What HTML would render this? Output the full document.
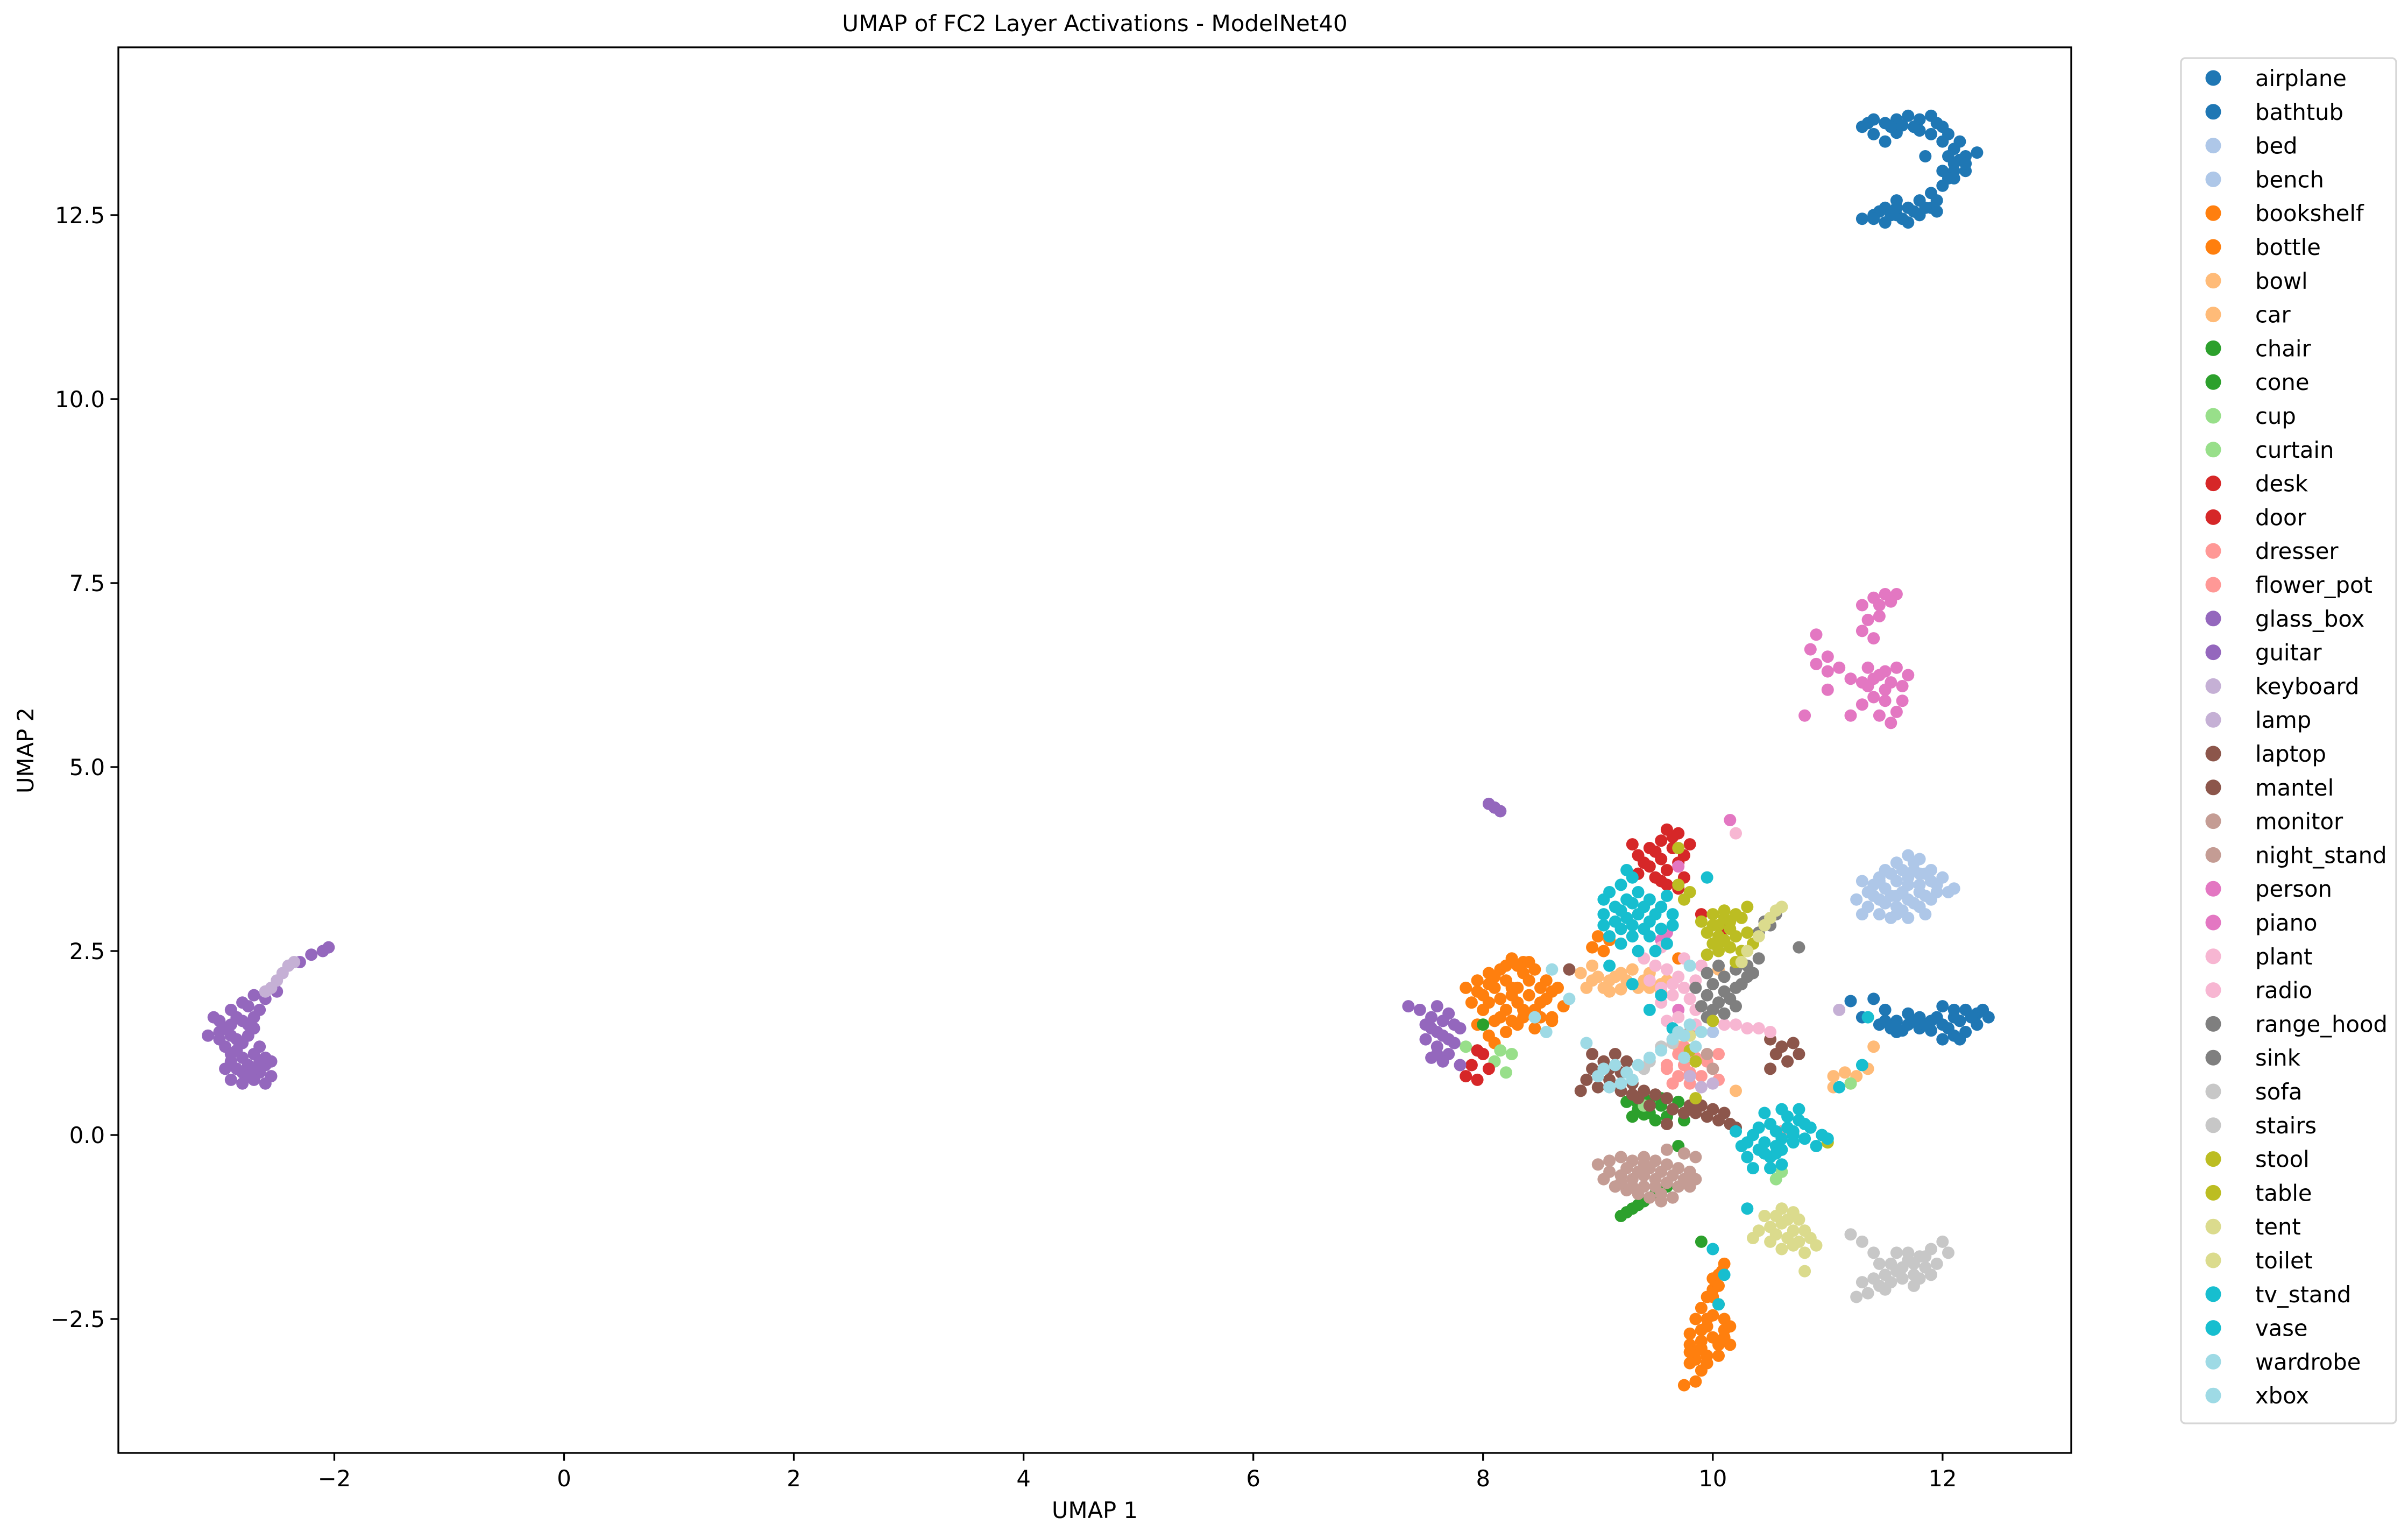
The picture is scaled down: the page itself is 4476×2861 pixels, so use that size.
<!DOCTYPE html>
<html><head><meta charset="utf-8"><style>
html,body{margin:0;padding:0;background:#fff;}
svg{display:block;font-family:"DejaVu Sans","Liberation Sans",sans-serif;}
</style></head><body>
<svg id="chart" width="4476" height="2861" viewBox="0 0 4476 2861" xmlns="http://www.w3.org/2000/svg">
<rect x="0" y="0" width="4476" height="2861" fill="#fff"/>
<text x="2035" y="58" font-size="42" text-anchor="middle">UMAP of FC2 Layer Activations - ModelNet40</text>
<text x="2035" y="2822" font-size="41.7" text-anchor="middle">UMAP 1</text>
<text transform="translate(62,1395) rotate(-90)" font-size="41.7" text-anchor="middle">UMAP 2</text>
<g id="marks"></g>
<g id="axes"></g>
<g id="legend"></g>
</svg>
<script>
const xTicks = [-2, 0, 2, 4, 6, 8, 10, 12];
const yTicks = [-2.5, 0.0, 2.5, 5.0, 7.5, 10.0, 12.5];
const yTickLabels = ["\u22122.5", "0.0", "2.5", "5.0", "7.5", "10.0", "12.5"];
const xTickLabels = ["\u22122", "0", "2", "4", "6", "8", "10", "12"];
const classes = ["airplane","bathtub","bed","bench","bookshelf","bottle","bowl","car","chair","cone","cup","curtain","desk","door","dresser","flower_pot","glass_box","guitar","keyboard","lamp","laptop","mantel","monitor","night_stand","person","piano","plant","radio","range_hood","sink","sofa","stairs","stool","table","tent","toilet","tv_stand","vase","wardrobe","xbox"];
const colors = ["#1f77b4","#1f77b4","#aec7e8","#aec7e8","#ff7f0e","#ff7f0e","#ffbb78","#ffbb78","#2ca02c","#2ca02c","#98df8a","#98df8a","#d62728","#d62728","#ff9896","#ff9896","#9467bd","#9467bd","#c5b0d5","#c5b0d5","#8c564b","#8c564b","#c49c94","#c49c94","#e377c2","#e377c2","#f7b6d2","#f7b6d2","#7f7f7f","#7f7f7f","#c7c7c7","#c7c7c7","#bcbd22","#bcbd22","#dbdb8d","#dbdb8d","#17becf","#17becf","#9edae5","#9edae5"];

const airplanePts = [[11.3,13.7],[11.4,13.8],[11.5,13.75],[11.6,13.8],[11.7,13.85],[11.8,13.8],[11.9,13.85],[12.0,13.7],[11.4,13.6],[11.6,13.62],[11.9,13.6],[12.0,13.5],[12.1,13.4],[12.2,13.3],[12.3,13.35],[12.1,13.2],[12.0,13.1],[12.2,13.1],[12.1,13.0],[12.0,12.9],[11.9,12.8],[11.4,12.5],[11.5,12.6],[11.6,12.5],[11.7,12.6],[11.8,12.5],[11.9,12.6],[11.7,12.4],[11.5,12.4],[11.8,12.7],[11.6,12.7],[11.3,12.45],[11.95,12.55],[12.15,13.25],[11.75,13.7],[11.5,13.5],[11.85,13.3],[12.05,13.3],[11.35,13.75],[11.55,13.7],[11.65,13.72],[11.8,13.65],[11.95,13.75],[12.05,13.6],[12.15,13.5],[12.2,13.2],[12.1,13.1],[12.05,13.0],[11.95,12.7],[11.45,12.55],[11.55,12.5],[11.65,12.45],[11.75,12.55],[11.85,12.6],[11.6,12.6],[11.4,12.45]];
const bathtubPts = [[11.2,1.82],[11.4,1.85],[11.5,1.7],[11.3,1.6],[11.45,1.5],[11.6,1.4],[11.7,1.5],[11.8,1.6],[11.9,1.55],[12.0,1.5],[12.1,1.6],[12.2,1.7],[12.3,1.65],[12.4,1.6],[12.0,1.3],[12.1,1.35],[12.2,1.4],[11.9,1.42],[12.0,1.75],[12.1,1.7],[11.6,1.55],[11.7,1.65],[11.8,1.45],[12.3,1.5],[11.55,1.45],[11.65,1.42],[11.75,1.55],[11.85,1.5],[11.95,1.6],[12.05,1.45],[12.15,1.55],[12.25,1.6],[12.35,1.7],[12.15,1.3],[11.5,1.55]];
const bedPts = [[11.3,3.45],[11.4,3.4],[11.5,3.6],[11.6,3.7],[11.7,3.8],[11.8,3.75],[11.9,3.6],[12.0,3.5],[12.1,3.35],[11.25,3.2],[11.35,3.1],[11.45,3.0],[11.55,2.95],[11.65,3.05],[11.75,3.15],[11.85,3.25],[11.95,3.3],[11.4,3.25],[11.5,3.35],[11.6,3.45],[11.7,3.5],[11.8,3.4],[11.9,3.2],[11.3,3.0],[11.5,3.15],[11.65,3.3],[11.75,3.6],[11.55,3.55],[11.7,2.95],[11.85,3.0],[10.0,1.4],[11.45,3.2],[11.55,3.25],[11.6,3.1],[11.7,3.2],[11.8,3.3],[11.9,3.45],[11.65,3.6],[11.75,3.7],[11.85,3.55],[11.35,3.3],[11.45,3.5],[11.6,3.0],[11.8,3.1],[11.95,3.4],[12.05,3.3]];
const benchPts = [[11.6,3.25],[11.7,3.4],[11.45,3.45],[11.8,3.55]];
const bookshelfPts = [[7.95,2.1],[8.05,2.2],[8.15,2.25],[8.25,2.4],[8.35,2.35],[8.45,2.25],[8.55,2.1],[8.6,1.95],[8.5,1.8],[8.4,1.65],[8.3,1.5],[8.2,1.4],[8.1,1.55],[8.0,1.7],[7.9,1.8],[8.0,1.9],[8.1,2.0],[8.2,2.1],[8.3,2.0],[8.4,1.9],[8.2,1.7],[8.3,1.8],[8.05,1.35],[7.95,1.5],[8.5,1.6],[8.65,2.0],[8.7,1.75],[8.15,1.85],[7.85,2.0],[8.35,2.2],[8.25,1.55],[8.45,1.45],[9.0,2.7],[9.05,2.5],[8.95,2.55],[9.1,2.65],[8.05,2.05],[8.1,2.15],[8.2,2.3],[8.3,2.3],[8.4,2.1],[8.5,2.0],[8.55,1.85],[8.45,1.7],[8.35,1.6],[8.25,1.9],[8.15,1.6],[8.05,1.8],[7.95,1.95],[8.25,2.0],[8.35,1.7],[8.6,1.55],[8.4,2.35],[10.1,-1.75],[10.05,-1.9],[10.0,-2.1],[9.95,-2.2],[10.05,-2.3],[9.9,-2.35],[10.0,-2.45],[10.1,-2.5],[9.95,-2.6],[9.85,-2.5],[9.8,-2.7],[9.9,-2.8],[10.0,-2.75],[10.1,-2.65],[10.15,-2.85],[9.85,-2.95],[9.95,-3.0],[9.8,-3.1],[9.9,-3.2],[9.85,-3.35],[9.75,-3.4],[10.05,-3.0],[9.95,-3.1],[10.15,-2.6],[10.0,-1.95],[10.05,-2.05],[9.95,-2.5],[9.9,-2.65],[9.8,-2.85],[9.85,-3.05],[9.9,-2.9],[10.05,-2.85],[10.1,-2.75],[9.8,-2.95],[10.0,-2.2],[10.08,-1.85]];
const bottlePts = [[8.1,1.25],[8.6,1.6],[9.7,2.4]];
const bowlPts = [[8.85,2.2],[8.95,2.1],[9.05,2.0],[9.15,2.15],[9.25,2.1],[9.35,2.0],[9.45,2.2],[9.55,2.05],[9.3,2.25],[9.1,1.95],[8.95,2.3],[9.2,1.98],[9.4,2.1],[9.55,1.95],[9.0,2.15],[9.1,2.1],[9.2,2.2],[9.3,2.05],[9.45,2.0],[9.6,2.1],[8.9,2.0],[11.05,0.8],[11.15,0.85],[11.25,0.8],[11.35,0.9],[11.05,0.65],[11.4,1.2],[11.2,0.7]];
const carPts = [[10.2,0.6],[10.05,2.25],[9.7,1.2]];
const chairPts = [[9.25,0.45],[9.35,0.35],[9.45,0.3],[9.55,0.4],[9.65,0.35],[9.3,0.25],[9.5,0.2],[9.6,0.25],[9.4,0.5],[9.7,0.45],[9.55,0.5],[9.35,0.42],[9.45,0.45],[9.4,0.28],[9.2,-1.1],[9.25,-1.05],[9.3,-1.0],[9.35,-0.95],[9.4,-0.9],[9.5,-0.8],[9.6,-0.7],[9.9,-1.45],[9.7,-0.15]];
const conePts = [[8.0,1.5],[9.75,0.2]];
const cupPts = [[7.85,1.2],[7.95,1.15],[8.1,1.0],[8.2,0.85],[8.15,1.15],[9.4,0.4],[10.5,-0.45],[10.6,-0.5],[11.2,0.7]];
const curtainPts = [[8.25,1.1],[10.55,-0.6]];
const deskPts = [[9.35,3.8],[9.45,3.9],[9.55,4.0],[9.6,4.15],[9.7,4.1],[9.65,3.9],[9.55,3.75],[9.45,3.65],[9.35,3.55],[9.5,3.5],[9.6,3.6],[9.7,3.7],[9.75,3.5],[9.7,3.35],[9.3,3.95],[9.8,3.95],[9.55,3.45],[9.4,3.7],[9.5,3.85],[9.65,4.05],[9.75,3.8],[9.6,3.4],[7.85,0.8],[7.95,0.75],[8.05,0.9],[7.9,0.95],[8.0,1.1],[7.95,1.15]];
const doorPts = [[9.9,3.0],[10.1,2.8]];
const dresserPts = [[9.65,1.3],[9.7,1.1],[9.75,0.95],[9.8,0.85],[9.9,0.8],[10.0,0.9],[9.85,1.05],[9.75,1.2],[9.95,1.0],[10.05,1.1],[9.6,0.95],[9.7,0.8],[9.8,0.7],[10.05,0.75],[9.65,0.7]];
const flowerPotPts = [[9.6,0.9],[10.6,0.05]];
const glassBoxPts = [[-3.0,1.55],[-2.9,1.7],[-2.8,1.8],[-2.7,1.9],[-2.6,1.85],[-3.1,1.35],[-3.0,1.4],[-2.9,1.5],[-2.8,1.55],[-2.7,1.6],[-2.95,1.2],[-2.85,1.3],[-2.75,1.35],[-2.65,1.7],[-2.6,1.95],[-2.5,1.95],[-2.9,1.0],[-2.8,1.05],[-2.7,1.1],[-2.6,1.05],[-2.85,0.9],[-2.75,0.95],[-2.65,0.85],[-2.55,0.8],[-2.9,0.75],[-2.8,0.7],[-2.7,0.75],[-2.6,0.7],[-2.95,0.9],[-2.65,1.2],[-2.55,1.0],[-3.05,1.6],[-2.75,1.75],[-2.85,1.15],[-2.95,1.45],[-2.85,1.6],[-2.75,1.5],[-2.9,1.35],[-3.0,1.3],[-2.8,1.25],[-2.7,1.45],[-2.8,0.85],[-2.7,0.9],[-2.6,0.95],[-2.75,0.8],[-2.65,1.0],[-2.9,1.1],[-2.3,2.35],[-2.2,2.45],[-2.1,2.5],[-2.05,2.55]];
const guitarPts = [[7.35,1.75],[7.45,1.7],[7.55,1.6],[7.65,1.55],[7.75,1.5],[7.6,1.4],[7.7,1.3],[7.5,1.3],[7.6,1.2],[7.7,1.1],[7.55,1.05],[7.65,1.0],[7.75,1.25],[7.8,1.45],[7.5,1.5],[7.6,1.75],[7.55,1.45],[7.65,1.35],[7.7,1.65],[7.6,1.1],[8.05,4.5],[8.1,4.45],[8.15,4.4],[7.8,0.95]];
const keyboardPts = [[-2.55,2.0],[-2.5,2.1],[-2.45,2.2],[-2.4,2.3],[-2.35,2.35],[-2.6,1.95],[11.1,1.7],[10.5,-0.3]];
const lampPts = [[9.8,0.8],[9.9,0.65],[10.0,0.7]];
const laptopPts = [[8.85,0.6],[8.9,0.75],[8.95,0.9],[9.05,1.0],[9.15,1.1],[9.0,0.65],[9.1,0.75],[9.2,0.85],[9.3,0.7],[9.4,0.6],[9.5,0.55],[9.35,0.5],[9.45,0.4],[9.6,0.5],[8.95,1.1],[9.25,1.0],[9.2,0.6],[9.3,0.55],[9.1,0.9],[10.5,1.3],[10.55,1.1],[10.6,1.2],[10.7,1.25],[10.75,1.1],[10.65,1.0],[10.5,0.9]];
const mantelPts = [[9.65,0.35],[9.75,0.3],[9.85,0.3],[9.95,0.25],[10.05,0.2],[10.15,0.15],[10.2,0.1],[9.9,0.4],[10.1,0.3],[9.8,0.4],[10.0,0.35],[8.75,2.25],[9.6,0.15]];
const monitorPts = [[9.0,-0.4],[9.1,-0.35],[9.2,-0.3],[9.3,-0.35],[9.4,-0.3],[9.5,-0.35],[9.6,-0.4],[9.7,-0.45],[9.8,-0.5],[9.1,-0.5],[9.2,-0.55],[9.3,-0.6],[9.4,-0.55],[9.5,-0.6],[9.6,-0.65],[9.7,-0.7],[9.15,-0.7],[9.25,-0.75],[9.35,-0.8],[9.45,-0.85],[9.55,-0.8],[9.65,-0.85],[9.8,-0.7],[9.05,-0.6],[9.85,-0.3],[9.6,-0.2],[9.75,-0.25],[9.4,-0.7],[9.25,-0.45],[9.35,-0.5],[9.45,-0.45],[9.55,-0.5],[9.65,-0.55],[9.75,-0.6],[9.5,-0.7],[9.3,-0.7],[9.2,-0.65],[9.85,-0.6],[9.55,-0.9],[9.4,-0.4]];
const nightStandPts = [[10.0,0.9],[9.95,1.1],[9.8,1.4]];
const personPts = [[11.3,7.2],[11.4,7.3],[11.5,7.35],[11.6,7.35],[11.35,7.0],[11.45,7.05],[11.3,6.85],[11.4,6.75],[10.9,6.8],[10.85,6.6],[10.9,6.4],[11.0,6.3],[11.1,6.35],[11.2,6.2],[11.3,6.15],[11.4,6.2],[11.5,6.3],[11.6,6.35],[11.7,6.25],[11.5,6.05],[11.4,5.95],[11.3,5.85],[11.45,5.7],[11.55,5.6],[11.6,5.75],[11.65,5.9],[11.2,5.7],[11.0,6.05],[10.8,5.7],[11.65,6.1],[11.35,6.1],[11.45,6.25],[11.55,6.15],[11.5,5.9],[11.35,6.35],[11.0,6.5],[11.45,7.2],[11.55,7.25]];
const pianoPts = [[10.15,4.28],[9.55,2.65],[9.6,2.75],[9.7,3.65],[9.7,1.7]];
const plantPts = [[9.4,2.4],[9.5,2.3],[9.6,2.25],[9.7,2.15],[9.75,2.0],[9.65,1.9],[9.55,1.8],[9.45,2.1],[9.8,1.85],[9.85,1.7],[9.7,1.6],[9.6,1.55],[9.9,2.3],[9.75,2.4],[9.55,2.0],[9.65,2.05],[9.85,2.1],[10.1,1.5],[10.2,1.5],[10.3,1.45],[10.4,1.45],[10.5,1.4],[10.2,4.1]];
const radioPts = [[9.55,2.55],[9.85,1.5]];
const rangeHoodPts = [[9.85,2.0],[9.95,1.9],[10.0,2.05],[10.1,2.15],[10.2,2.25],[10.3,2.3],[10.1,1.95],[9.9,1.75],[10.0,1.7],[10.15,1.85],[10.25,2.05],[10.35,2.2],[10.4,2.4],[10.05,2.3],[9.95,2.2],[10.05,1.8],[10.2,2.0],[10.3,2.15],[10.45,2.9],[10.5,2.85],[10.55,3.0],[10.4,2.75],[10.75,2.55],[9.95,1.6]];
const sinkPts = [[10.2,1.75],[10.1,1.65]];
const sofaPts = [[11.3,-1.45],[11.4,-1.6],[11.45,-1.75],[11.5,-1.9],[11.6,-1.85],[11.7,-1.7],[11.8,-1.65],[11.9,-1.55],[12.0,-1.45],[11.3,-2.0],[11.35,-2.15],[11.45,-2.05],[11.55,-2.0],[11.65,-1.95],[11.75,-1.9],[11.85,-1.8],[11.95,-1.75],[11.25,-2.2],[11.6,-1.6],[11.9,-1.9],[11.2,-1.35],[11.75,-2.05],[12.05,-1.6],[11.55,-1.75],[11.65,-1.8],[11.75,-1.75],[11.85,-1.65],[11.4,-1.95],[11.5,-2.1],[11.7,-1.6],[11.8,-1.95]];
const stairsPts = [[9.55,1.2],[9.65,1.25],[9.45,1.0],[9.4,0.9]];
const stoolPts = [[9.95,2.75],[10.05,2.85],[10.15,2.9],[10.25,2.95],[10.0,2.6],[10.1,2.65],[10.2,2.7],[10.3,2.75],[9.95,2.45],[10.05,2.5],[10.15,2.55],[10.25,2.5],[10.35,2.6],[10.1,3.05],[9.9,2.9],[10.0,3.0],[10.3,3.1],[10.05,2.7],[10.15,2.8],[10.0,2.85],[10.1,2.95],[10.2,3.0],[10.05,2.6],[9.75,3.2],[9.7,3.4],[9.8,3.3],[9.85,1.0],[9.8,1.15],[9.85,0.5],[10.2,2.35]];
const tablePts = [[9.7,3.9],[10.0,1.55],[11.0,-0.1]];
const tentPts = [[10.4,-1.3],[10.5,-1.25],[10.55,-1.1],[10.6,-1.0],[10.7,-1.05],[10.75,-1.15],[10.55,-1.35],[10.65,-1.4],[10.75,-1.45],[10.85,-1.4],[10.9,-1.5],[10.6,-1.55],[10.5,-1.45],[10.8,-1.6],[10.8,-1.85],[10.45,-1.1],[10.35,-1.4],[10.6,-1.2],[10.7,-1.3],[10.65,-1.15],[10.8,-1.3],[10.7,-1.5]];
const toiletPts = [[10.45,2.85],[10.5,2.95],[10.55,3.05],[10.6,3.1],[10.4,2.7],[10.3,2.5],[10.25,2.35],[9.8,1.35]];
const tvStandPts = [[9.05,3.2],[9.1,3.3],[9.2,3.4],[9.3,3.5],[9.25,3.6],[9.05,3.0],[9.15,3.1],[9.25,3.2],[9.35,3.3],[9.45,3.2],[9.55,3.1],[9.65,3.0],[9.05,2.85],[9.15,2.9],[9.25,2.95],[9.35,3.0],[9.45,2.9],[9.55,2.8],[9.65,2.85],[9.1,2.7],[9.2,2.6],[9.3,2.7],[9.45,2.7],[9.6,2.6],[9.35,2.5],[9.5,2.5],[9.6,3.25],[9.2,3.05],[9.3,3.15],[9.4,3.1],[9.5,3.0],[9.4,2.8],[9.2,2.8],[9.3,2.85],[9.1,2.3],[9.3,2.05],[9.55,1.9],[9.45,1.7],[9.65,1.45],[9.95,3.5],[10.25,-0.15],[10.35,0.0],[10.45,-0.1],[10.55,0.05],[10.65,0.1],[10.75,0.2],[10.85,0.1],[10.95,0.0],[10.3,-0.3],[10.4,-0.2],[10.5,-0.3],[10.6,-0.2],[10.7,-0.1],[10.8,-0.05],[10.9,-0.15],[10.45,0.3],[10.6,0.35],[10.75,0.35],[10.5,-0.45],[10.6,-0.4],[11.0,-0.05],[10.2,0.05],[10.65,0.25],[10.35,-0.45],[10.4,0.1],[10.5,0.15],[10.6,-0.05],[10.7,0.05],[10.8,0.15],[10.55,-0.15],[10.45,-0.25],[10.3,-0.1],[11.3,0.95],[11.1,0.65],[10.0,-1.55],[10.1,-1.9],[10.05,-2.3],[10.3,-1.0],[11.35,1.6]];
const vasePts = [[10.55,-0.25],[10.7,0.0]];
const wardrobePts = [[9.05,0.9],[9.15,0.95],[9.25,0.85],[9.3,0.75],[9.2,0.7],[9.1,0.65],[9.0,0.8],[9.35,0.95],[9.45,1.05],[9.55,1.15],[9.65,1.3],[9.75,1.35],[9.8,1.5],[9.85,1.2],[9.9,1.4],[8.9,1.25],[8.55,1.4],[8.45,1.6],[8.75,1.85],[9.8,2.3]];
const xboxPts = [[9.75,1.05],[9.7,1.4],[8.6,2.25]];

const pointSets = [airplanePts,bathtubPts,bedPts,benchPts,bookshelfPts,bottlePts,bowlPts,carPts,chairPts,conePts,cupPts,curtainPts,deskPts,doorPts,dresserPts,flowerPotPts,glassBoxPts,guitarPts,keyboardPts,lampPts,laptopPts,mantelPts,monitorPts,nightStandPts,personPts,pianoPts,plantPts,radioPts,rangeHoodPts,sinkPts,sofaPts,stairsPts,stoolPts,tablePts,tentPts,toiletPts,tvStandPts,vasePts,wardrobePts,xboxPts];

const NS = "http://www.w3.org/2000/svg";
const AX = {left:220, right:3850, top:88, bottom:2701};
const X0 = -3.88, X1 = 13.12, Y0 = -4.32, Y1 = 14.78;
function sx(v){ return AX.left + (v - X0) / (X1 - X0) * (AX.right - AX.left); }
function sy(v){ return AX.bottom - (v - Y0) / (Y1 - Y0) * (AX.bottom - AX.top); }
function mk(tag, attrs){ const e = document.createElementNS(NS, tag); for (const k in attrs) e.setAttribute(k, attrs[k]); return e; }

const marks = document.getElementById('marks');
pointSets.forEach((pts, ci) => {
  const g = mk('g', {fill: colors[ci]});
  
  
  pts.forEach(p => {
    const c = mk('circle', {cx: sx(p[0]).toFixed(1), cy: sy(p[1]).toFixed(1), r: 11.5});
    
    
    g.appendChild(c);
  });
  marks.appendChild(g);
});

const axes = document.getElementById('axes');
const frame = mk('rect', {x: AX.left, y: AX.top, width: AX.right - AX.left, height: AX.bottom - AX.top, fill: 'none', stroke: '#000', 'stroke-width': 3.3});


axes.appendChild(frame);
xTicks.forEach((t, i) => {
  const x = sx(t);
  const l = mk('line', {x1: x, x2: x, y1: AX.bottom, y2: AX.bottom + 14.6, stroke: '#000', 'stroke-width': 3.3});
  
  
  axes.appendChild(l);
  const tx = mk('text', {x: x, y: AX.bottom + 62, 'font-size': 41.7, 'text-anchor': 'middle'});
  
  
  tx.textContent = xTickLabels[i];
  axes.appendChild(tx);
});
yTicks.forEach((t, i) => {
  const y = sy(t);
  const l = mk('line', {x1: AX.left - 14.6, x2: AX.left, y1: y, y2: y, stroke: '#000', 'stroke-width': 3.3});
  
  
  axes.appendChild(l);
  const tx = mk('text', {x: AX.left - 25, y: y + 15, 'font-size': 41.7, 'text-anchor': 'end'});
  
  
  tx.textContent = yTickLabels[i];
  axes.appendChild(tx);
});

const legend = document.getElementById('legend');
const box = mk('rect', {x: 4054, y: 108, width: 400, height: 2538, rx: 8, fill: '#fff', stroke: '#d6d6d6', 'stroke-width': 3.3});


legend.appendChild(box);
classes.forEach((name, i) => {
  const y = 145 + i * 62.8;
  const g = mk('g', {});
  
  
  const c = mk('ellipse', {cx: 4114, cy: y, rx: 14.5, ry: 14.5, fill: colors[i]});
  
  
  g.appendChild(c);
  const t = mk('text', {x: 4192, y: y + 15, 'font-size': 41.7});
  
  
  t.textContent = name;
  g.appendChild(t);
  legend.appendChild(g);
});
</script>
</body></html>
